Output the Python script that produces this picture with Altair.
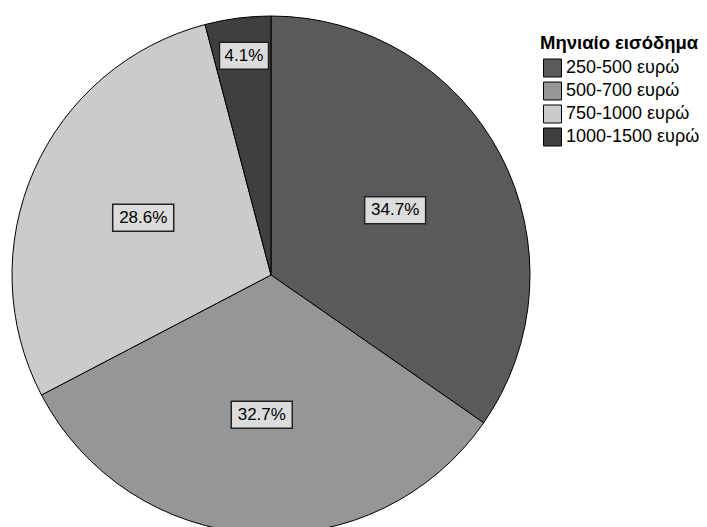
import altair as alt
import pandas as pd

categories = ["250-500 ευρώ", "500-700 ευρώ", "750-1000 ευρώ", "1000-1500 ευρώ"]
percents = [34.7, 32.7, 28.6, 4.1]
labels = ["34.7%", "32.7%", "28.6%", "4.1%"]
colors = ["#5a5a5a", "#969696", "#cbcbcb", "#3f3f3f"]

df = pd.DataFrame({
    "cat": categories,
    "pct": percents,
    "label": labels,
    "ord": list(range(len(categories))),
})

CX, CY, R = 263, 267, 259

base = alt.Chart(df)

pie = base.mark_arc(outerRadius=R, stroke="black", strokeWidth=1).encode(
    theta=alt.Theta("pct:Q", stack=True),
    order=alt.Order("ord:Q"),
    color=alt.Color(
        "cat:N",
        scale=alt.Scale(domain=categories, range=colors),
        sort=categories,
        legend=alt.Legend(
            title="Μηνιαίο εισόδημα",
            orient="none",
            legendX=532,
            legendY=26,
            titleFont="Liberation Sans",
            titleFontSize=18.5,
            titleFontWeight="bold",
            titleColor="black",
            titlePadding=6,
            labelFont="Liberation Sans",
            labelFontSize=18,
            labelColor="black",
            labelOffset=4,
            symbolType="square",
            symbolSize=324,
            symbolStrokeColor="black",
            symbolStrokeWidth=1,
            symbolOpacity=1,
            symbolOffset=3,
            rowPadding=0,
            padding=0,
        ),
    ),
    x=alt.value(CX),
    y=alt.value(CY),
)

pos = base.transform_window(
    cum="sum(pct)", sort=[alt.SortField("ord")]
).transform_calculate(
    mid="(datum.cum - datum.pct/2)/100*2*PI",
    r="datum.pct < 10 ? 221 : 140",
).transform_calculate(
    cx=f"{CX} + datum.r*sin(datum.mid)",
    cy=f"{CY} - datum.r*cos(datum.mid)",
    hw="(length(datum.label)*12 + 1)/2",
).transform_calculate(
    x1="datum.cx - datum.hw",
    x2="datum.cx + datum.hw",
    y1="datum.cy - 13.5",
    y2="datum.cy + 13.5",
)

boxes = pos.mark_rect(fill="#dcdcdc", stroke="#222222", strokeWidth=1.5).encode(
    x=alt.X("x1:Q", scale=None),
    x2="x2:Q",
    y=alt.Y("y1:Q", scale=None),
    y2="y2:Q",
)

texts = pos.mark_text(
    font="Liberation Sans", fontSize=17, color="black", baseline="middle", align="center"
).encode(
    x=alt.X("cx:Q", scale=None),
    y=alt.Y("cy:Q", scale=None),
    text="label:N",
)

chart = alt.layer(pie, boxes, texts).properties(
    width=691, height=519, autosize=alt.AutoSizeParams(type="none"), padding=0,
    background="white",
).configure_view(strokeWidth=0, stroke="transparent")

chart.save("out.html", embed_options={"renderer": "svg", "actions": False})
